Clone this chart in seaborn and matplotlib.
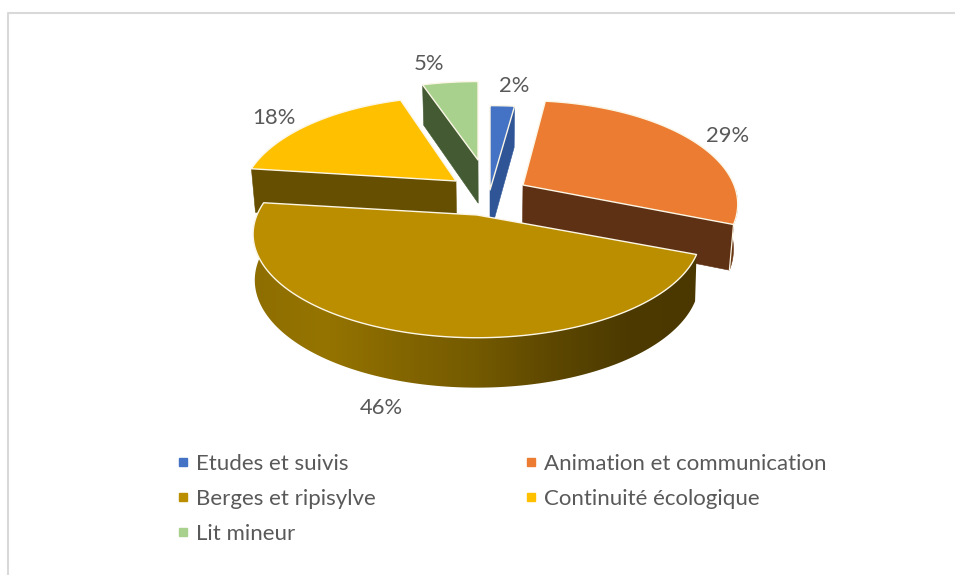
import numpy as np
import matplotlib
matplotlib.use("Agg")
import matplotlib.pyplot as plt
from matplotlib.colors import LinearSegmentedColormap
from matplotlib.lines import Line2D
from matplotlib.patches import Polygon
import seaborn as sns

categories = ["Etudes et suivis", "Animation et communication", "Berges et ripisylve",
              "Continuité écologique", "Lit mineur"]
shares = [2, 29, 46, 18, 5]
top_colors = ["#4472C4", "#EB7C31", "#BB8E00", "#FFC000", "#A9D18E"]
wall_colors = ["#2F5597", "#5F3114", "#7F6000", "#664F00", "#435A32"]

# Layout of the exploded disc, in pixels of the figure
APEX = [(490, 190), (523, 185), (477, 215), (456, 181), (478, 160)]
RX = [232, 211, 220, 211, 211]
RY = [100, 100, 100, 100, 93]
LEAN = [0.983, 0.983, 0.993, 0.983, 0.983]
PERSPECTIVE = 5.4
LABEL_POS = [(514, 86), (728, 136), (381, 408), (274, 118), (429, 64)]

sns.set_theme(style="white")
plt.rcParams["font.family"] = ["Lato", "DejaVu Sans"]
TEXT = "#595959"
EDGE = "#FBF6E6"

fig = plt.figure(figsize=(9.55, 5.75), dpi=100)
ax = fig.add_axes([0, 0, 1, 1])
ax.axis("off")

# Chart frame: only the top and left sides fall inside the canvas
ax.plot([7.5, 7.5, 955], [575, 12.5, 12.5], color="#D9D9D9", lw=1.5, zorder=0)

# Slice limits, clockwise from twelve o'clock
edges = np.cumsum([0] + shares) / sum(shares) * 2 * np.pi


def rim(i, theta):
    """Project points of the disc rim of slice i, with far points shrunk."""
    theta = np.asarray(theta, dtype=float)
    s = PERSPECTIVE / (PERSPECTIVE + np.cos(theta))
    return (APEX[i][0] + RX[i] * s * np.sin(theta),
            APEX[i][1] - RY[i] * s * np.cos(theta))


def drop(i, x, y):
    """Lower a top-face point to the base of the disc; depth grows toward the viewer."""
    x = np.asarray(x, dtype=float)
    y = np.asarray(y, dtype=float)
    depth = 41 + (y - 100) * 9 / 240
    return 490 + (x - 490) * LEAN[i], y + depth


def radial_wall(i, theta, color, z):
    x, y = rim(i, theta)
    ax_, ay_ = APEX[i]
    bx, by = drop(i, np.array([ax_, x]), np.array([ay_, y]))
    ax.add_patch(Polygon([(ax_, ay_), (x, y), (bx[1], by[1]), (bx[0], by[0])],
                         closed=True, fc=color, ec=color, lw=0.4, zorder=z))


def outer_outline(i, t0, t1):
    ts = np.linspace(t0, t1, 200)
    x, y = rim(i, ts)
    bx, by = drop(i, x, y)
    return list(zip(x, y)) + list(zip(bx[::-1], by[::-1]))


def top_face(i, z):
    ts = np.linspace(edges[i], edges[i + 1], 200)
    x, y = rim(i, ts)
    pts = [APEX[i]] + list(zip(x, y))
    ax.add_patch(Polygon(pts, closed=True, fc=top_colors[i], ec=EDGE, lw=1.0,
                         joinstyle="round", zorder=z))


# Painter's order: far slices first
radial_wall(4, edges[4], wall_colors[4], 1)
top_face(4, 2)

radial_wall(3, edges[3], wall_colors[3], 3)
top_face(3, 4)

radial_wall(0, edges[1], wall_colors[0], 5)
top_face(0, 6)

radial_wall(1, edges[2], wall_colors[1], 7)
ax.add_patch(Polygon(outer_outline(1, np.radians(93), edges[2]), closed=True,
                     fc="#6B3815", ec="#6B3815", lw=0.4, zorder=7))
top_face(1, 8)
cx, cy = rim(1, edges[2])
bx, by = drop(1, cx, cy)
ax.plot([cx, bx], [cy, by], color=EDGE, lw=0.9, zorder=8)

# Front wall of the largest slice, lit from the left
wall_ramp = sns.blend_palette(["#8E6E00", "#957400", "#846600", "#745A00", "#5E4800", "#4C3A00", "#4A3800"], 256)
wall_cmap = LinearSegmentedColormap.from_list("front_wall", wall_ramp)
wall = Polygon(outer_outline(2, edges[2], edges[3]), closed=True, fc="none", ec="none",
               transform=ax.transData)
ax.add_patch(wall)
gradient = ax.imshow(np.linspace(0, 1, 512)[None, :], cmap=wall_cmap, aspect="auto",
                     extent=(250, 700, 400, 200), zorder=9)
gradient.set_clip_path(wall)
ax.set_xlim(0, 955)
ax.set_ylim(575, 0)
top_face(2, 10)

# Percentage labels
for share, (lx, ly) in zip(shares, LABEL_POS):
    ax.text(lx, ly, f"{share}%", color=TEXT, fontsize=15.8, ha="center", va="center", zorder=11)

# Legend, filled column by column to read as rows of two
order = [0, 2, 4, 1, 3]
handles = [Line2D([], [], ls="none", marker="s", ms=6, mfc=top_colors[i], mec=top_colors[i]) for i in order]
ax.legend(handles, [categories[i] for i in order], ncols=2, loc="upper left",
          bbox_to_anchor=(177.5 / 955, 1 - 454 / 575), frameon=False, fontsize=16,
          labelcolor=TEXT, labelspacing=0.68, columnspacing=6.7, handlelength=0.5,
          handletextpad=0.35, borderpad=0, borderaxespad=0)

fig.savefig("out.png", dpi=100)
